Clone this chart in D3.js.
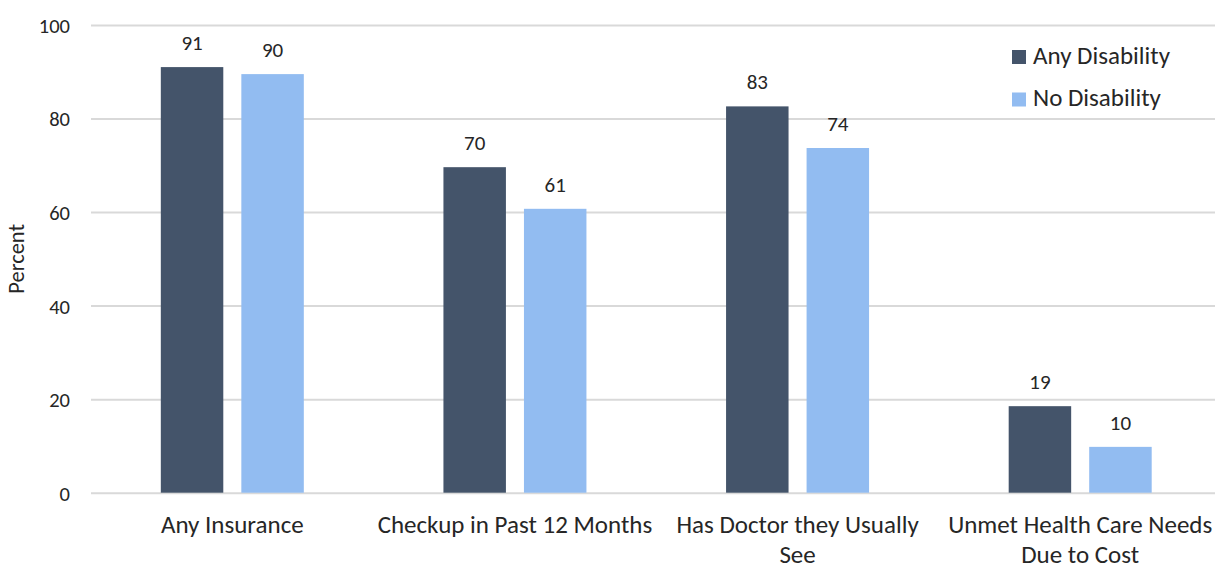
<!DOCTYPE html>
<html>
<head>
<meta charset="utf-8">
<script src="https://cdn.jsdelivr.net/npm/d3@7"></script>
<style>
  html, body { margin: 0; padding: 0; background: #fff; }
  svg { display: block; font-family: Carlito, Calibri, Lato, "Noto Sans", sans-serif; }
</style>
</head>
<body>
<svg id="chart" width="1215" height="565"></svg>
<script>
const categories = ["Any Insurance", "Checkup in Past 12 Months", "Has Doctor they Usually See", "Unmet Health Care Needs Due to Cost"];
const seriesNames = ["Any Disability", "No Disability"];
const anyDisability = [91.0, 69.6, 82.6, 18.5];
const noDisability = [89.5, 60.7, 73.7, 9.8];
const dataLabels = [["91", "70", "83", "19"], ["90", "61", "74", "10"]];
const yTicks = [0, 20, 40, 60, 80, 100];
const colors = ["#44546a", "#92bcf1"];

const FONT = 'Carlito, Calibri, Lato, "Noto Sans", sans-serif';
const svg = d3.select("#chart");
const W = 1215, H = 565;
const plot = { left: 91, right: 1221.5, top: 25, bottom: 492.7 };

const x0 = d3.scaleBand().domain(categories).range([plot.left, plot.right]).padding(0);
const y = d3.scaleLinear().domain([0, 100]).range([plot.bottom, plot.top]);
const innerWidth = 143;
const x1 = d3.scaleBand().domain(seriesNames).range([0, innerWidth]).paddingInner(0.224).paddingOuter(0);

const series = [anyDisability, noDisability];

// gridlines + y tick labels
const yAxis = d3.axisLeft(y).tickValues(yTicks).tickSize(-(W - plot.left)).tickPadding(21);
const gY = svg.append("g").attr("transform", `translate(${plot.left},0)`).call(yAxis)
  .attr("font-family", FONT);
gY.select(".domain").remove();
gY.selectAll(".tick line").attr("stroke", "#d9d9d9").attr("stroke-width", 2);
gY.selectAll(".tick text").attr("fill", "#262626").attr("font-size", 20.5).attr("dy", "0.36em");

// bars
const groups = svg.append("g").selectAll("g").data(categories).join("g")
  .attr("transform", c => `translate(${x0(c) + x0.bandwidth() / 2 - innerWidth / 2},0)`);

groups.each(function(c, i) {
  const g = d3.select(this);
  seriesNames.forEach((s, si) => {
    const v = series[si][i];
    g.append("rect")
      .attr("x", x1(s))
      .attr("y", y(v))
      .attr("width", x1.bandwidth())
      .attr("height", y(0) - y(v))
      .attr("fill", colors[si]);
    g.append("text")
      .attr("x", x1(s) + x1.bandwidth() / 2)
      .attr("y", y(v) - 17)
      .attr("text-anchor", "middle")
      .attr("font-size", 21)
      .attr("fill", "#262626")
      .text(dataLabels[si][i]);
  });
});

// x axis labels
const xAxis = d3.axisBottom(x0).tickSize(0).tickPadding(0);
const gX = svg.append("g").attr("transform", `translate(0,${plot.bottom})`).call(xAxis)
  .attr("font-family", FONT);
gX.select(".domain").remove();
gX.selectAll(".tick text")
  .attr("fill", "#262626").attr("font-size", 25)
  .attr("y", 40.3).attr("dy", 0)
  .call(wrap, 283);

function wrap(texts, width) {
  texts.each(function() {
    const text = d3.select(this);
    const words = text.text().split(/\s+/);
    const yy = +text.attr("y");
    text.text(null);
    let line = [];
    let tspan = text.append("tspan").attr("x", 0).attr("y", yy);
    let lineNo = 0;
    words.forEach(w => {
      line.push(w);
      tspan.text(line.join(" "));
      if (tspan.node().getComputedTextLength() > width && line.length > 1) {
        line.pop();
        tspan.text(line.join(" "));
        line = [w];
        lineNo++;
        tspan = text.append("tspan").attr("x", 0).attr("y", yy + lineNo * 30).text(w);
      }
    });
  });
}

// y axis title
svg.append("text")
  .attr("transform", `translate(24,${(plot.top + plot.bottom) / 2}) rotate(-90)`)
  .attr("text-anchor", "middle")
  .attr("font-size", 22.5)
  .attr("fill", "#262626")
  .text("Percent");

// legend
const legend = svg.append("g").selectAll("g").data(seriesNames).join("g")
  .attr("transform", (d, i) => `translate(1012,${50 + i * 42.5})`);
legend.append("rect").attr("width", 14).attr("height", 14).attr("fill", (d, i) => colors[i]);
legend.append("text").attr("x", 21).attr("y", 13.5)
  .attr("font-size", 25).attr("fill", "#262626").text(d => d);
</script>
</body>
</html>
